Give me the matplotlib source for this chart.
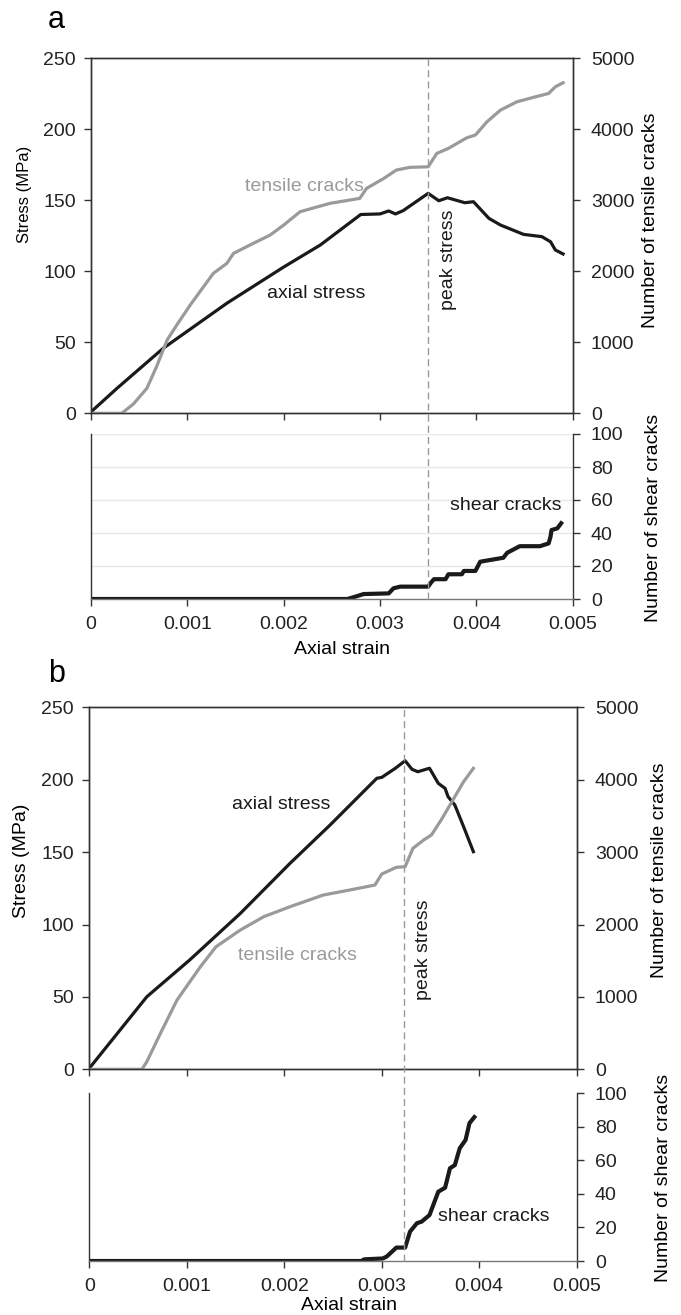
import matplotlib
matplotlib.use("Agg")
import matplotlib.pyplot as plt
from matplotlib.lines import Line2D
from matplotlib.transforms import blended_transform_factory

# --- Configuration ---
W, H = 681, 1315
BLACK = '#1a1a1a'
GREY = '#9a9a9a'
plt.rcParams['font.family'] = ['Liberation Sans', 'DejaVu Sans']
plt.rcParams['font.size'] = 14

XTICKS = [0, 0.001, 0.002, 0.003, 0.004, 0.005]
XTICK_LABELS = ['0', '0.001', '0.002', '0.003', '0.004', '0.005']
STRESS_TICKS = [0, 50, 100, 150, 200, 250]
TENSILE_TICKS = [0, 1000, 2000, 3000, 4000, 5000]
SHEAR_TICKS = [0, 20, 40, 60, 80, 100]

# --- Panel a data ---
A_STRAIN = [0, 0.00027, 0.00075, 0.00141, 0.0020, 0.00238, 0.0028, 0.0030, 0.00309,
            0.00316, 0.00324, 0.0035, 0.00361, 0.0037, 0.00388, 0.00397, 0.00413,
            0.00425, 0.00449, 0.00468, 0.00477, 0.00482, 0.0049]
A_STRESS = [1, 17.6, 45.8, 77.5, 103, 118.5, 140, 140.4, 142.5,
            140.4, 142.7, 154.9, 149.7, 151.8, 148.3, 149, 137.3,
            132.6, 126, 124.4, 120.8, 115, 112.2]

A_T_STRAIN = [0, 0.00032, 0.00044, 0.00058, 0.00068, 0.00079, 0.00089, 0.00103, 0.00113,
              0.00127, 0.00141, 0.00148, 0.00165, 0.00186, 0.0020, 0.00217, 0.00248,
              0.00279, 0.00286, 0.00304, 0.00317, 0.00331, 0.0035, 0.00359, 0.00371,
              0.0039, 0.00399, 0.00411, 0.00425, 0.00442, 0.00459, 0.00475, 0.00482,
              0.0049]
A_TENSILE = [0, 0, 131, 352, 656, 1032, 1243, 1525, 1712,
             1971, 2112, 2253, 2370, 2511, 2651, 2839, 2957,
             3027, 3168, 3309, 3426, 3464, 3472, 3661, 3731,
             3880, 3919, 4106, 4270, 4387, 4449, 4505, 4599,
             4655]

A_S_STRAIN = [0, 0.00266, 0.00272, 0.00283, 0.00309, 0.00314, 0.00321, 0.0035, 0.00353,
              0.00356, 0.00368, 0.00371, 0.00385, 0.00387, 0.00399, 0.00404, 0.00414,
              0.00428, 0.00432, 0.00445, 0.00466, 0.00475, 0.00477, 0.00478, 0.00484,
              0.00488]
A_SHEAR = [0, 0, 1, 3, 3.4, 6.5, 7.5, 7.5, 10,
           12, 12, 15, 15, 17, 17, 22.6, 23.6,
           25, 28, 32, 32, 33.7, 37.8, 41.8, 42.8,
           45.9]
A_PEAK = 0.0035

# --- Panel b data ---
B_STRAIN = [0, 0.00059, 0.00103, 0.00155, 0.00206, 0.00247, 0.00288, 0.00295, 0.003,
            0.00314, 0.00324, 0.00331, 0.00337, 0.00349, 0.00358, 0.00365, 0.00368,
            0.00375, 0.00384, 0.00394]
B_STRESS = [0.7, 50.1, 75.5, 107.7, 142.3, 168.7, 196.3, 201, 201.6,
            207.9, 213.1, 207.2, 205.5, 207.9, 197.5, 194, 188.3,
            182.5, 167.5, 150.3]

B_T_STRAIN = [0, 0.00054, 0.00059, 0.00073, 0.0009, 0.00114, 0.0013, 0.00155, 0.00179,
              0.00206, 0.0024, 0.00267, 0.00293, 0.003, 0.00315, 0.00324, 0.00332,
              0.00343, 0.00351, 0.00361, 0.00372, 0.00384, 0.00394]
B_TENSILE = [0, 0, 105, 497, 957, 1417, 1693, 1924, 2108,
             2246, 2407, 2476, 2545, 2697, 2790, 2798, 3052,
             3167, 3237, 3444, 3697, 3973, 4157]

B_S_STRAIN = [0, 0.00279, 0.00282, 0.00301, 0.00305, 0.00315, 0.00324, 0.00329, 0.00336,
              0.00341, 0.00349, 0.00358, 0.00365, 0.0037, 0.00375, 0.0038, 0.00386,
              0.0039, 0.00395]
B_SHEAR = [0, 0, 1, 1.5, 2.6, 8, 8, 17.5, 22.5,
           23.5, 27.4, 41.3, 43.7, 55.3, 57.2, 67.2, 72.2,
           82.2, 85.8]
B_PEAK = 0.00323


def px_box(left, top, right, bottom):
    """Pixel box -> figure fraction rect."""
    return [left / W, 1 - bottom / H, (right - left) / W, (bottom - top) / H]


def fig_text(fig, px, py, s, **kw):
    fig.text(px / W, 1 - py / H, s, **kw)


def style_ticks(ax):
    ax.tick_params(direction='out', length=5, width=1, color='#333333', pad=6,
                   labelsize=14, labelcolor='#222222')
    for sp in ax.spines.values():
        sp.set_color('#333333')
        sp.set_linewidth(1)


def draw_panel(fig, top_box, bot_box, strain, stress, t_strain, tensile,
               s_strain, shear, peak, grid):
    ax = fig.add_axes(px_box(*top_box))
    ax.plot(strain, stress, color=BLACK, lw=2.3, solid_joinstyle='round')
    ax.set_xlim(0, 0.005)
    ax.set_ylim(0, 250)
    ax.set_xticks(XTICKS)
    ax.set_xticklabels([])
    ax.set_yticks(STRESS_TICKS)
    style_ticks(ax)

    ax2 = ax.twinx()
    ax2.plot(t_strain, tensile, color=GREY, lw=2.3, solid_joinstyle='round')
    ax2.set_ylim(0, 5000)
    ax2.set_yticks(TENSILE_TICKS)
    style_ticks(ax2)
    ax2.tick_params(pad=8)

    axb = fig.add_axes(px_box(*bot_box))
    axb.plot(s_strain, shear, color=BLACK, lw=3, solid_joinstyle='round')
    axb.set_xlim(0, 0.005)
    axb.set_ylim(0, 100)
    axb.set_xticks(XTICKS)
    axb.set_xticklabels(XTICK_LABELS)
    axb.yaxis.tick_right()
    axb.set_yticks(SHEAR_TICKS)
    style_ticks(axb)
    axb.tick_params(axis='y', pad=8)
    axb.tick_params(axis='x', pad=7)
    axb.spines['top'].set_visible(False)
    axb.spines['bottom'].set_color('#777777')
    if grid:
        for v in SHEAR_TICKS[1:]:
            axb.axhline(v, color='#e8e8e8', lw=1, zorder=0)

    # dashed peak-stress line spanning both axes
    trans = blended_transform_factory(ax.transData, fig.transFigure)
    y0 = 1 - bot_box[3] / H
    y1 = 1 - top_box[1] / H
    fig.add_artist(Line2D([peak, peak], [y0, y1], transform=trans, color='#999999',
                          lw=1, dashes=(5, 3)))
    return ax, ax2, axb


def main():
    fig = plt.figure(figsize=(W / 100, H / 100), dpi=100)

    # Panel a
    ax, ax2, axb = draw_panel(fig, (91, 58.3, 572.7, 413.3), (91, 434, 572.7, 599),
                              A_STRAIN, A_STRESS, A_T_STRAIN, A_TENSILE,
                              A_S_STRAIN, A_SHEAR, A_PEAK, grid=True)
    ax.text(0.0016, 156.8, 'tensile cracks', color=GREY, ha='left', va='baseline')
    ax.text(0.001824, 81, 'axial stress', color=BLACK, ha='left', va='baseline')
    ax.text(0.003707, 108, 'peak stress', color=BLACK, rotation=90,
            ha='center', va='center')
    axb.text(0.00431, 53.9, 'shear cracks', color=BLACK, ha='center', va='baseline')
    fig_text(fig, 56.5, 28.3, 'a', fontsize=22, ha='center', va='baseline')
    # the panel a stress label is drawn shorter than the others
    fig_text(fig, 25, 194, 'Stress (MPa)', fontsize=12, rotation=90,
             ha='center', va='center')
    fig_text(fig, 650.5, 220, 'Number of tensile cracks', rotation=90,
             ha='center', va='center')
    fig_text(fig, 653, 517.5, 'Number of shear cracks', rotation=90,
             ha='center', va='center')
    fig_text(fig, 342, 650, 'Axial strain', ha='center', va='center')

    # Panel b
    ax, ax2, axb = draw_panel(fig, (89.3, 707.3, 576.7, 1069.3), (89.3, 1093.3, 576.7, 1261),
                              B_STRAIN, B_STRESS, B_T_STRAIN, B_TENSILE,
                              B_S_STRAIN, B_SHEAR, B_PEAK, grid=False)
    ax.text(0.001973, 179.6, 'axial stress', color=BLACK, ha='center', va='baseline')
    ax.text(0.002135, 75.5, 'tensile cracks', color=GREY, ha='center', va='baseline')
    ax.text(0.00343, 82.4, 'peak stress', color=BLACK, rotation=90,
            ha='center', va='center')
    axb.text(0.004148, 23.9, 'shear cracks', color=BLACK, ha='center', va='baseline')
    fig_text(fig, 56.5, 681.7, 'b', fontsize=22, ha='center', va='baseline')
    fig_text(fig, 22, 861, 'Stress (MPa)', rotation=90, ha='center', va='center')
    fig_text(fig, 660, 870, 'Number of tensile cracks', rotation=90,
             ha='center', va='center')
    fig_text(fig, 663.5, 1178, 'Number of shear cracks', rotation=90,
             ha='center', va='center')
    fig_text(fig, 349, 1306, 'Axial strain', ha='center', va='center')

    fig.savefig('out.png', dpi=100)


if __name__ == "__main__":
    main()
